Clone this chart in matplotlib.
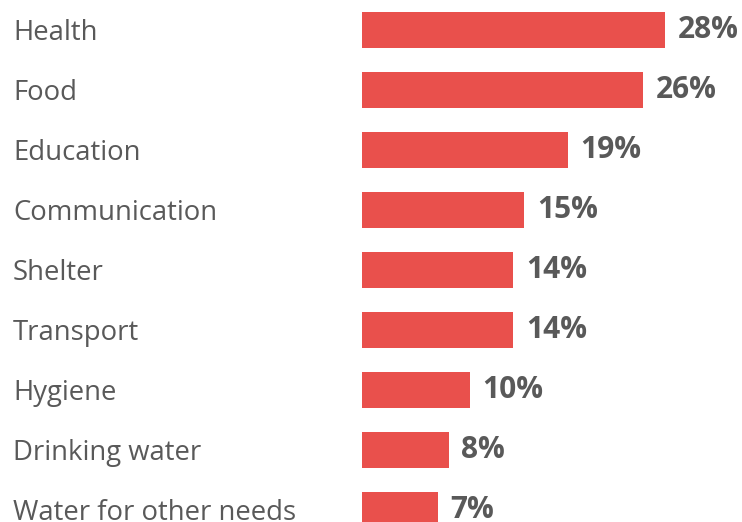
import matplotlib.pyplot as plt
from matplotlib.transforms import blended_transform_factory

# Needs, share of respondents (%)
categories = ["Health", "Food", "Education", "Communication", "Shelter",
              "Transport", "Hygiene", "Drinking water", "Water for other needs"]
values = [28, 26, 19, 15, 14, 14, 10, 8, 7]

bar_color = "#E9504C"
text_color = "#595959"

W, H = 742, 522
fig = plt.figure(figsize=(W / 100, H / 100), dpi=100)
ax = fig.add_axes([362 / W, 0, (W - 362) / W, 1])

y = list(range(len(categories)))
ax.barh(y, values, height=0.6, color=bar_color)
ax.set_xlim(0, (W - 362) / 10.82)
ax.set_ylim((H - 30) / 60, -0.5)
ax.axis("off")

# category names at the left edge of the figure
trans = blended_transform_factory(fig.transFigure, ax.transData)
for yi, name in zip(y, categories):
    ax.annotate(name, xy=(13 / W, yi), xycoords=trans, xytext=(0, -2),
                textcoords="offset points", ha="left", va="center",
                fontsize=19.8, color=text_color, family="Open Sans",
                annotation_clip=False)

# value labels after the bars
for yi, v in zip(y, values):
    ax.annotate(f"{v}%", xy=(v, yi), xytext=(9, 0), textcoords="offset points",
                ha="left", va="center", fontsize=21.5, fontweight="bold",
                color=text_color, family="Open Sans", annotation_clip=False)

fig.savefig("out.png", dpi=100)
